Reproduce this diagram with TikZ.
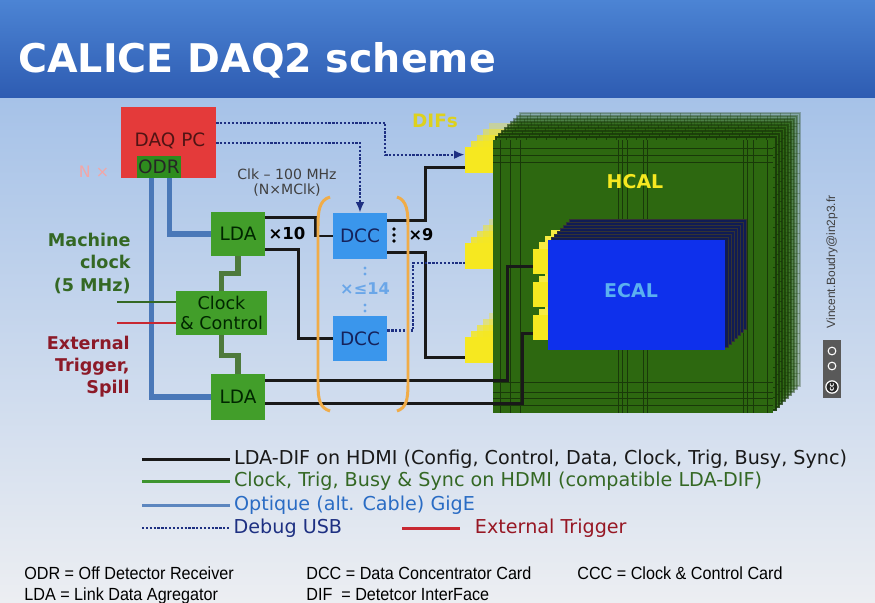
\documentclass[tikz,border=0pt]{standalone}
\usepackage{fontspec}
\setmainfont{DejaVu Sans}
\newfontfamily\notefont[FakeStretch=0.92]{Liberation Sans}
\newfontfamily\creditfont{Liberation Sans}
\usetikzlibrary{calc,arrows.meta}

% Couleurs
\definecolor{barblue}{RGB}{76,132,212}
\definecolor{bardark}{RGB}{46,92,178}
\definecolor{bgtop}{RGB}{166,194,232}
\definecolor{bgbot}{RGB}{236,238,242}
\definecolor{pcred}{RGB}{228,58,58}
\definecolor{odrgreen}{RGB}{46,140,30}
\definecolor{boxgreen}{RGB}{66,158,42}
\definecolor{zigzag}{RGB}{78,122,60}
\definecolor{fibre}{RGB}{74,120,184}
\definecolor{dccblue}{RGB}{58,150,236}
\definecolor{usbnavy}{RGB}{30,48,130}
\definecolor{bracket}{RGB}{240,172,72}
\definecolor{difyellow}{RGB}{246,232,32}
\definecolor{hcalgreen}{RGB}{45,104,16}
\definecolor{ecalblue}{RGB}{14,48,236}
\definecolor{ecalback}{RGB}{16,28,84}
\definecolor{ecaltxt}{RGB}{90,176,240}
\definecolor{clkgreen}{RGB}{52,104,36}
\definecolor{trigred}{RGB}{140,26,40}
\definecolor{legblue}{RGB}{42,108,196}
\definecolor{extred}{RGB}{200,40,50}
\definecolor{paleblue}{RGB}{106,166,232}

\tikzset{
  unit/.style={inner sep=0pt, font=\fontsize{10.5}{12}\selectfont},
  ldabox/.style={unit, fill=boxgreen, minimum width=1.08cm, minimum height=0.88cm, text=black!85!green},
  dccbox/.style={unit, fill=dccblue, minimum width=1.08cm, minimum height=0.92cm, text=usbnavy!70!black},
  difbox/.style={fill=difyellow, inner sep=0pt, minimum width=0.56cm, minimum height=0.52cm},
  edifbox/.style={fill=difyellow, inner sep=0pt, minimum width=0.3cm, minimum height=0.5cm},
  sidelbl/.style={anchor=base east, inner sep=0pt, font=\bfseries\fontsize{10}{12}\selectfont},
  hdmi/.style={line width=1.7pt, black!90},
  fibrelink/.style={line width=3.2pt, fibre},
  clklink/.style={line width=3.2pt, zigzag},
  clkline/.style={line width=1.4pt, clkgreen},
  trigline/.style={line width=1.4pt, extred},
  usb/.style={line width=1.2pt, usbnavy, dash pattern=on 1.3pt off 0.9pt},
  usbarrow/.style={usb, -{Latex[length=6pt,width=5pt]}},
  paren/.style={line width=1.7pt, bracket},
  grid/.style={hcalgreen!55!black, line width=0.4pt},
  legtext/.style={inner sep=1.5pt, font=\fontsize{10.9}{12}\selectfont},
  note/.style={anchor=base west, inner sep=0pt, font=\notefont\fontsize{10}{11}\selectfont}
}

\begin{document}
\begin{tikzpicture}[x=0.02cm, y=-0.02cm]
  \useasboundingbox (0,0) rectangle (875,602);

  % Fond et bandeau de titre
  \shade[top color=bgtop, bottom color=bgbot] (0,97) rectangle (875,602);
  \shade[top color=barblue, bottom color=bardark] (0,0) rectangle (875,97);
  \node[anchor=base west, inner sep=0pt, text=white, font=\bfseries\fontsize{22.5}{26}\selectfont] (title) at (18,72) {CALICE DAQ2 scheme};

  % HCAL : couches empilees, de l'arriere vers l'avant
  \foreach \i in {9,...,1}{
    \pgfmathsetmacro{\op}{1-0.08*\i}
    \begin{scope}[shift={(3*\i,-3*\i)}, opacity=\op]
      \fill[hcalgreen] (493,140) rectangle (773,413);
      \foreach \gx in {503,513,...,763} \draw[grid] (\gx,140) -- (\gx,413);
      \foreach \gy in {150,160,...,405} \draw[grid] (493,\gy) -- (773,\gy);
      \draw[grid, line width=0.8pt] (493,140) rectangle (773,413);
      % un DIF sur deux pour l'escalier
      \ifodd\i\else
        \fill[difyellow] (465,147) rectangle (493,173);
        \fill[difyellow] (465,243) rectangle (493,269);
        \fill[difyellow] (465,337) rectangle (493,363);
      \fi
    \end{scope}
  }
  \fill[hcalgreen] (493,140) rectangle (773,413);
  \foreach \gx in {500,510,520,618,622,627,643,647,743,747,753,767} \draw[grid] (\gx,140) -- (\gx,413);
  \foreach \gy in {148,155,162,382,392,398,405} \draw[grid] (493,\gy) -- (773,\gy);
  \node[difbox] (dif1) at (479,160) {};
  \node[difbox] (dif2) at (479,256) {};
  \node[difbox] (dif3) at (479,350) {};
  \node[font=\bfseries\fontsize{10.8}{12}\selectfont, text=difyellow] (hcal) at (635,182) {HCAL};

  % ECAL dans le HCAL
  \foreach \i in {7,...,1}{
    \begin{scope}[shift={(3*\i,-3*\i)}]
      \fill[ecalback] (548,240) rectangle (725,350);
      \draw[black!80, line width=0.5pt] (548,240) rectangle (725,350);
      \ifodd\i\else
        \fill[difyellow!85!white] (533,248) rectangle (548,274);
        \fill[difyellow!85!white] (533,282) rectangle (548,307);
        \fill[difyellow!85!white] (533,315) rectangle (548,340);
      \fi
    \end{scope}
  }
  \fill[ecalblue] (548,240) rectangle (725,350);
  \node[edifbox] (edif1) at (540.5,261) {};
  \node[edifbox] (edif2) at (540.5,294.5) {};
  \node[edifbox] (edif3) at (540.5,327.5) {};
  \node[font=\bfseries\fontsize{10.8}{12}\selectfont, text=ecaltxt] (ecal) at (631,291) {ECAL};
  \node[font=\bfseries\fontsize{10.5}{12}\selectfont, text=difyellow!90!black] (difs) at (435,121) {DIFs};

  % Cartes
  \node[fill=pcred, minimum width=1.9cm, minimum height=1.42cm] (daqpc) at (168.5,142.5) {};
  \node[unit, text=pcred!35!black] (daqlbl) at (170,141) {DAQ PC};
  \node[unit, fill=odrgreen, minimum width=0.88cm, minimum height=0.44cm, text=black!85] (odr) at (159,167) {ODR};
  \node[ldabox] (lda1) at (238,234) {LDA};
  \node[ldabox, minimum height=0.92cm] (lda2) at (238,397) {LDA};
  \node[ldabox, minimum width=1.82cm, align=center, font=\fontsize{10}{11.4}\selectfont] (ccc) at (221.5,313) {Clock\\\& Control};
  \node[dccbox] (dcc1) at (360,236) {DCC};
  \node[dccbox, minimum height=0.9cm] (dcc2) at (360,338.5) {DCC};

  % Liaisons optiques GigE
  \draw[fibrelink] ($(odr.south west)+(15,0)$) |- (lda2.west);
  \draw[fibrelink] ($(odr.south west)+(33,0)$) |- (lda1.west);

  % Horloge machine et trigger externe
  \coordinate (mclk) at (117,302);
  \coordinate (xtrig) at (117,323);
  \draw[clkline] (mclk) -- (mclk -| ccc.west);
  \draw[trigline] (xtrig) -- (xtrig -| ccc.west);
  \draw[clklink] (lda1.south) -- ++(0,17) -| (ccc.north);
  \draw[clklink] (ccc.south) -- ++(0,20) -| (lda2.north);

  % Liaisons HDMI
  \draw[hdmi] ($(lda1.north east)+(0,6)$) -- ++(50,0) |- (dcc1.west);
  \draw[hdmi] ($(lda1.south east)+(0,-7)$) -- ++(33,0) |- (dcc2.west);
  \draw[hdmi] ($(dcc1.north east)+(0,8)$) -- ++(38,0) |- ($(dif1.south west)+(0,-6)$);
  \draw[hdmi] ($(dcc1.south east)+(0,-7)$) -- ++(38,0) |- ($(dif3.south west)+(0,-6)$);
  \draw[hdmi] ($(lda2.north east)+(0,7)$) -- ++(242,0) |- ($(edif1.south west)+(0,-7)$);
  \draw[hdmi] ($(lda2.south east)+(0,-17)$) -- ++(257,0) |- ($(edif3.south west)+(0,-7)$);

  % USB de debug
  \draw[usbarrow] ($(daqpc.north east)+(0,16)$) -- ++(169,0) |- ($(dif1.north west)+(0,8)$);
  \draw[usbarrow] ($(daqpc.north east)+(0,36)$) -| (dcc1.north);
  \draw[usb] ($(dcc2.east)+(0,-8)$) -- ++(26,0) |- ($(dif2.south west)+(0,-6)$);

  % Multiplicites
  \node[font=\bfseries\fontsize{9.4}{11}\selectfont] (x10) at (287,233) {×10};
  \foreach \d in {229,235,241} \fill (394,\d) circle (1.1pt);
  \node[font=\bfseries\fontsize{9.2}{11}\selectfont] (x9) at (421,235) {×9};
  \foreach \d in {268,274,305,311} \fill[paleblue] (365,\d) circle (0.9pt);
  \node[font=\bfseries\fontsize{9.2}{11}\selectfont, text=paleblue] (x14) at (365,289) {×≤14};
  \node[font=\fontsize{8}{8.6}\selectfont, text=black!75, align=center] (clk) at (287,183) {Clk – 100 MHz\\(N×MClk)};
  \node[font=\fontsize{9}{10}\selectfont, text=pcred!45] (nrep) at (94,172) {N ×};

  % Parentheses autour des DCC
  \draw[paren] (330,197) .. controls (319,200) and (318,212) .. (318,226) -- (318,384) .. controls (318,400) and (320,408) .. (330,411);
  \draw[paren] (397,197) .. controls (407,200) and (408,212) .. (408,226) -- (408,384) .. controls (408,400) and (406,408) .. (397,411);

  % Etiquettes a gauche
  \node[sidelbl, text=clkgreen] (mc1) at (131,246) {Machine};
  \node[sidelbl, text=clkgreen] (mc2) at (131,268) {clock};
  \node[sidelbl, text=clkgreen] (mc3) at (131,291) {(5 MHz)};
  \node[sidelbl, text=trigred] (et1) at (130,349) {External};
  \node[sidelbl, text=trigred] (et2) at (130,371) {Trigger,};
  \node[sidelbl, text=trigred] (et3) at (130,393) {Spill};

  % Auteur et licence
  \node[rotate=90, inner sep=0pt, font=\creditfont\fontsize{6.8}{8}\selectfont, text=black!75] (credit) at (832,262) {Vincent.Boudry@in2p3.fr};
  \fill[black!65] (823,340) rectangle (841,398);
  \draw[white, fill=black!85, line width=0.7pt] (832,387) circle (3.5pt);
  \node[rotate=90, inner sep=0pt, text=white, font=\bfseries\fontsize{4}{4}\selectfont] (cclogo) at (832,387) {cc};
  \draw[white, line width=0.6pt] (832,366) circle (2.2pt);
  \draw[white, line width=0.6pt] (832,351) circle (2.2pt);

  % Legende
  \draw[hdmi] (142,459) -- (230,459) node[legtext, right, text=black!90] (leg1) {LDA-DIF on HDMI (Config, Control, Data, Clock, Trig, Busy, Sync)};
  \draw[line width=1.7pt, zigzag!80!green] (142,481) -- (230,481) node[legtext, right, text=clkgreen] (leg2) {Clock, Trig, Busy \& Sync on HDMI (compatible LDA-DIF)};
  \draw[line width=1.7pt, fibre!90!white] (142,505) -- (230,505) node[legtext, right, text=legblue] (leg3) {Optique (alt. Cable) GigE};
  \draw[usb] (142,528) -- (230,528) node[legtext, right, text=usbnavy] (leg4) {Debug USB};
  \draw[line width=1.7pt, extred] (402,528) -- (460,528);
  \node[legtext, anchor=west, text=trigred!90!red] (leg5) at (472,528) {External Trigger};

  % Abreviations
  \node[note] (ab1) at (24,579) {ODR = Off Detector Receiver};
  \node[note] (ab2) at (24,600) {LDA = Link Data Agregator};
  \node[note] (ab3) at (306,579) {DCC = Data Concentrator Card};
  \node[note] (ab4) at (306,600) {DIF\ \ = Detetcor InterFace};
  \node[note] (ab5) at (577,579) {CCC = Clock \& Control Card};
\end{tikzpicture}
\end{document}
